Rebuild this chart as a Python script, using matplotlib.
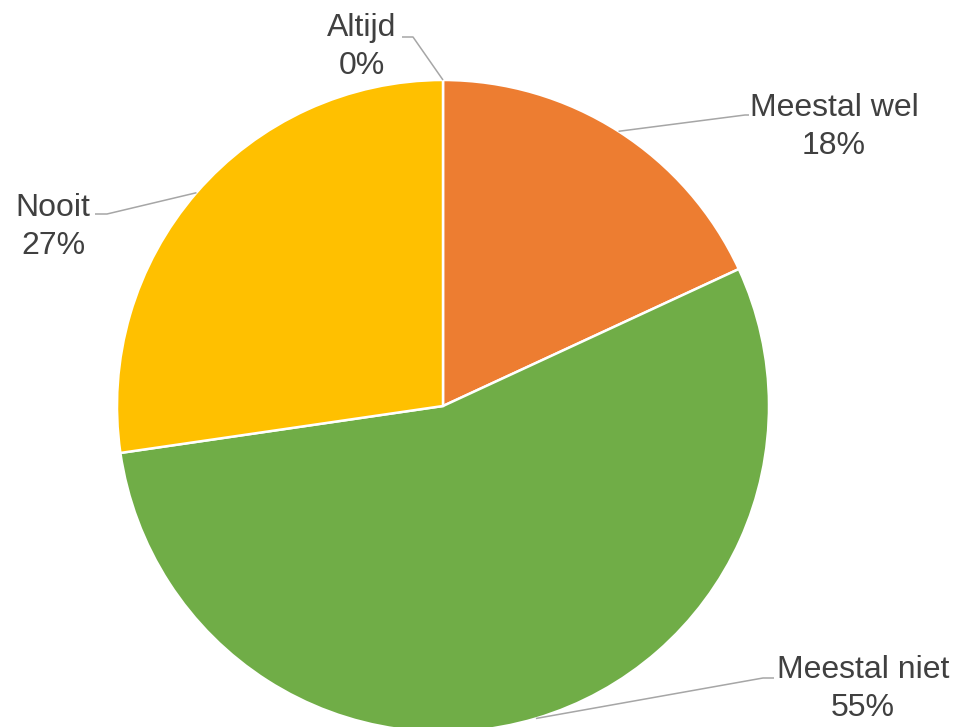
import numpy as np
import matplotlib.pyplot as plt

## --- Data
categories = ['Altijd', 'Meestal wel', 'Meestal niet', 'Nooit']
shares = [0.0, 18.1, 54.6, 27.3]  # percent
colors = ['#4472C4', '#ED7D31', '#70AD47', '#FFC000']

## --- Layout (image pixel coords, y down)
W, H = 956, 727
center = (443, 406)
radius = 326
# text block centers and elbow of the leader line per slice
label_pos = [(362, 47), (834, 127), (863, 689), (53, 227)]
elbows = [((413, 37), (402, 37)), ((745, 115), (749, 115)),
          ((763, 678), (774, 678)), ((107, 214), (95, 214))]

plt.rcParams['font.family'] = ['Liberation Sans', 'DejaVu Sans']

fig = plt.figure(figsize=(W / 100, H / 100), dpi=100)
ax = fig.add_axes([0, 0, 1, 1])

cx, cy = center[0], H - center[1]
wedges, _ = ax.pie(shares, colors=colors, startangle=90, counterclock=False,
                   center=(cx, cy), radius=radius, frame=True,
                   wedgeprops={'edgecolor': 'white', 'linewidth': 1.8})
ax.set_xlim(0, W)
ax.set_ylim(0, H)
ax.set_aspect('equal')
ax.axis('off')

for w, name, val, (tx, ty), (e1, e2) in zip(wedges, categories, shares, label_pos, elbows):
    mid = np.deg2rad((w.theta1 + w.theta2) / 2)
    ax_x = cx + radius * np.cos(mid)
    ax_y = cy + radius * np.sin(mid)
    ax.plot([ax_x, e1[0], e2[0]], [ax_y, H - e1[1], H - e2[1]],
            color='#A6A6A6', lw=1.1, solid_capstyle='butt', zorder=3)
    ax.text(tx, H - ty, f'{name}\n{round(val):.0f}%', ha='center', va='center',
            fontsize=23, color='#404040', linespacing=1.38)

plt.savefig('out.png', dpi=100)
